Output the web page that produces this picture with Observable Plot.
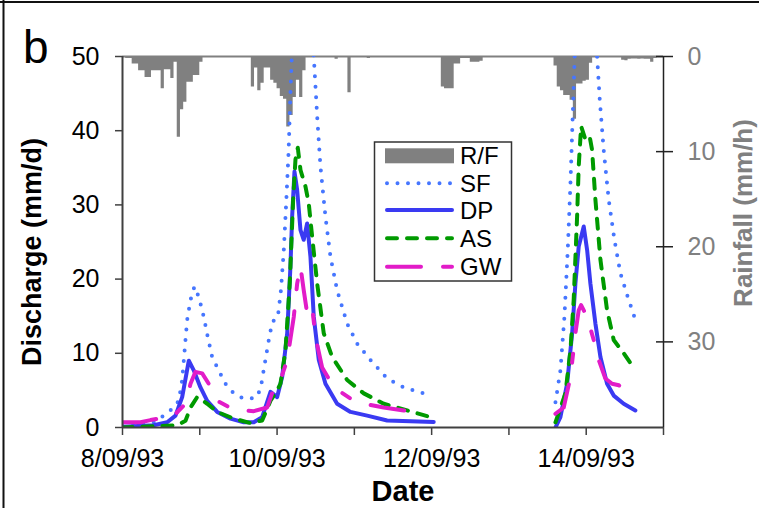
<!DOCTYPE html>
<html><head><meta charset="utf-8">
<script src="https://cdn.jsdelivr.net/npm/d3@7"></script>
<script src="https://cdn.jsdelivr.net/npm/@observablehq/plot@0.6"></script>
<style>
html,body{margin:0;padding:0;background:#fff;}
#chart{position:relative;width:759px;height:508px;overflow:hidden;font-family:"Liberation Sans",Arial,sans-serif;}
#chart svg{position:absolute;left:0;top:0;}
</style></head><body><div id="chart"></div>
<script>
// ---- data (day offsets from 8/09/93 00:00; null = gap in record) ----
const sfDay = [0,0.2,0.405,0.534,0.643,0.728,0.772,0.815,0.837,0.880,0.931,0.987,1.052,1.103,1.160,1.225,1.332,1.440,1.549,1.656,1.74,1.79,1.828,1.893,1.937,2.01,2.05,2.087,2.12,2.15,2.17,2.19,2.25,2.33,2.41,2.475,2.519,2.561,2.626,2.691,2.777,2.907,3.036,3.208,3.424,3.639,3.920,null,5.602,5.666,5.718,5.761,5.796,5.825,5.851,5.92,6.0,6.08,6.141,6.175,6.226,6.291,6.365,6.442,6.537,6.636];
const sfQ   = [0.2,0.3,0.7,1.6,2.5,3.6,6.4,11.8,14.5,17.2,19.0,17.6,14.9,12.2,9.5,8.1,5.9,4.6,4.0,3.9,4.1,5.4,7.8,11.8,14.2,14.9,18.5,23.9,30.7,37.4,44.2,50,58,61,57,50,41.9,35.2,28.4,23.0,18.5,14.0,11.3,9.1,6.6,5.4,4.55,null,3.4,7.7,14.9,23.9,32.9,41.9,50,57,59,56,50,44.2,37.4,30.7,25.3,20.8,17.6,14.5];

const dpDay = [0,0.405,0.578,0.686,0.772,0.828,0.858,0.922,1.009,1.096,1.225,1.397,1.569,1.699,1.807,1.915,2.001,2.066,2.131,2.173,2.195,2.225,2.26,2.303,2.345,2.389,2.432,2.475,2.540,2.626,2.777,2.950,3.166,3.424,3.726,4.027,null,5.602,5.666,5.753,5.818,5.860,5.903,5.968,6.012,6.054,6.119,6.184,6.270,6.356,6.485,6.636];
const dpQ   = [0.1,0.3,0.7,1.6,4.1,7.3,9.0,7.7,5.4,3.6,2.1,1.2,0.7,0.7,1.4,4.8,4.1,6.8,12.7,21.7,28.4,34.5,32.0,26.6,25.3,27.5,23.0,14.9,9.1,5.9,3.2,2.1,1.6,0.95,0.85,0.75,null,0,1.4,5.9,12.7,19.4,24.4,27.1,23.9,19.4,14.0,9.5,5.9,4.3,3.2,2.3];

const asDay = [0,0.708,0.815,0.880,0.966,1.096,1.225,1.440,1.656,1.807,1.915,2.001,2.044,2.109,2.164,2.208,2.238,2.268,2.303,2.367,2.410,2.454,2.519,2.604,2.713,2.907,3.122,3.380,3.683,3.984,null,5.602,5.731,5.796,5.838,5.882,5.903,5.934,5.990,6.045,6.076,6.119,6.184,6.270,6.356,6.485,6.636];
const asQ   = [0,0.3,0.9,2.7,4.1,3.2,2.1,1.2,0.6,0.95,3.6,5.0,5.9,10.4,19.4,30.7,36.1,37.7,34.7,32.5,30.2,25.7,19.4,12.7,9.5,6.4,4.6,3.2,2.3,1.4,null,0.7,4.6,10.4,17.2,28.4,35.2,40.6,38.8,39.2,37.4,30.7,22.6,15.8,11.8,10.0,7.7];

const gwDay = [0,0.233,0.362,0.470,0.664,0.815,0.880,0.944,1.031,1.116,1.225,1.440,1.699,1.872,1.979,2.044,2.131,2.216,2.260,2.303,2.345,2.389,2.454,2.497,2.583,2.733,2.950,3.122,3.380,3.639,3.833,null,5.602,5.709,5.796,5.860,5.903,5.934,6.012,6.097,6.162,6.248,6.335,6.421,6.636];
const gwQ   = [0.7,0.7,1.0,1.2,1.6,3.2,5.9,7.5,7.3,5.9,3.6,2.4,2.2,2.7,5.9,6.4,9.1,14.9,19.4,21.7,18.5,15.4,16.3,12.2,8.1,5.4,3.9,3.2,2.7,2.3,1.85,null,1.85,2.7,6.8,12.7,15.8,16.5,14.9,11.8,9.1,6.6,5.9,5.7,4.1];

// hourly rainfall (hour offsets from 8/09/93 00:00), mm/h
const rainHour = [1,2,3,4,5,6,7,8,9,10,11,12,13,14,15,16,17,18,19,20,21,22,23,24,
  40,41,42,43,44,45,46,47,48,49,50,51,52,53,54,55,56,66,70,76,
  99,100,101,102,103,104,105,106,107,108,109,110,111,
  134,135,136,137,138,139,140,141,142,143,144,145,
  155,156,157,158,159,160,161,162,163,164,165,166];
const rainMM = [0.2,0.2,0.8,0.8,1.5,1.5,2.2,2.2,1.5,1.5,1.5,3.4,1.4,1.4,2.3,0.6,8.5,5.6,4.8,2.7,2.7,2.0,2.0,0.6,
  3.2,1.2,3.6,2.8,1.2,1.2,2.5,2.8,3.4,4.2,4.5,7.4,6.2,4.3,2.5,4.3,1.5,0.3,3.8,0.2,
  3.2,3.4,3.4,3.4,0.8,0.8,0.2,0.2,0.2,0.6,0.6,0.6,0.5,
  1.0,3.2,3.6,4.1,4.1,4.6,6.6,2.9,2.9,2.6,2.5,0.7,
  0.4,0.45,0.3,0.25,0.25,0.3,0.25,0.3,0.3,0.6,0.2,0.1];

const qTicks = [0,10,20,30,40,50];
const rainTicks = [0,10,20,30];
const xTickDays = [0,1,2,3,4,5,6,7];
const xTickLabels = ["8/09/93","","10/09/93","","12/09/93","","14/09/93",""];
const seriesNames = ["SF","DP","AS","GW"];

// ---- build ----
const W = 759, H = 508;
const M = {marginTop:56, marginRight:96, marginBottom:81, marginLeft:122};
const FONT = '"Liberation Sans", Arial, sans-serif';
const t0 = Date.UTC(1993, 8, 8);
const toDate = d => d == null ? null : new Date(t0 + d * 864e5);
const hourDate = h => new Date(t0 + h * 36e5);
const xDomain = [toDate(0), toDate(7)];
const rows = (days, qs) => days.map((d, i) => ({date: toDate(d), q: qs[i]}));
const sf = rows(sfDay, sfQ), dp = rows(dpDay, dpQ), as = rows(asDay, asQ), gw = rows(gwDay, gwQ);
// hourly totals as a stepped hyetograph: one contiguous block per run of consecutive hours
const rainSteps = [];
rainHour.forEach((h, i) => {
  rainSteps.push({t: hourDate(h), mm: rainMM[i]});
  if (rainHour[i + 1] !== h + 1) {
    rainSteps.push({t: hourDate(h + 1), mm: rainMM[i]});
    rainSteps.push({t: hourDate(h + 1), mm: null});
  }
});
const tickDates = xTickDays.map(toDate);
const labelByTime = new Map(tickDates.map((d, i) => [+d, xTickLabels[i]]));

const C = {SF:"#4676ff", DP:"#3a3af2", AS:"#009a00", GW:"#e21cc8", RF:"#808080"};
const DASH = {SF:"0 10.5", DP:null, AS:"10 10", GW:"34 22 9 22"};

const rainPlot = Plot.plot({
  width: W, height: H, ...M,
  x: {type: "utc", domain: xDomain, axis: null},
  y: {domain: [0, 39], reverse: true, label: null},
  style: {background: "white", fontFamily: FONT, overflow: "visible"},
  marks: [
    Plot.areaY(rainSteps, {x: "t", y: "mm", curve: "step-after", fill: C.RF}),
    Plot.ruleY([0], {stroke: C.RF, strokeWidth: 2}),
    Plot.ruleX([xDomain[1]], {stroke: "#222", strokeWidth: 1.5}),
    Plot.axisY({anchor: "right", ticks: rainTicks, tickSize: 17, dx: -8, tickPadding: 15,
      fontSize: 25, fill: "#808080", stroke: "#222", strokeWidth: 1.5, label: null, tickFormat: d => String(d)})
  ]
});

const lineOpts = k => ({x: "date", y: "q", stroke: C[k], strokeWidth: 4,
  strokeDasharray: DASH[k], strokeLinecap: "round", strokeLinejoin: "round", clip: true});

const qPlot = Plot.plot({
  width: W, height: H, ...M,
  x: {type: "utc", domain: xDomain, label: null},
  y: {domain: [0, 50], label: null},
  style: {background: "transparent", fontFamily: FONT, overflow: "visible"},
  marks: [
    Plot.line(sf, lineOpts("SF")),
    Plot.line(dp, lineOpts("DP")),
    Plot.line(as, lineOpts("AS")),
    Plot.line(gw, lineOpts("GW")),
    Plot.ruleX([xDomain[0]], {stroke: "#404040", strokeWidth: 2}),
    Plot.ruleY([0], {stroke: "#404040", strokeWidth: 2}),
    Plot.axisY({ticks: qTicks, tickSize: 7, tickPadding: 16, fontSize: 25, fill: "#000",
      stroke: "#404040", strokeWidth: 1.5, label: null, tickFormat: d => String(d)}),
    Plot.axisX({ticks: tickDates, tickSize: 8, tickPadding: 14, fontSize: 25, fill: "#000",
      stroke: "#404040", strokeWidth: 1.5, label: null, tickFormat: d => labelByTime.get(+d) ?? ""})
  ]
});

const host = document.getElementById("chart");
host.appendChild(rainPlot);
host.appendChild(qPlot);

// ---- annotations: titles, panel letter, legend, panel border ----
const svg = d3.select(qPlot);
const g = svg.append("g").attr("font-family", FONT).attr("text-anchor", "start");
const txt = (sel, size, weight, fill) => sel.style("font-size", size + "px").style("font-weight", weight).attr("fill", fill);
g.append("line").attr("x1", 0).attr("x2", W).attr("y1", 2).attr("y2", 2).attr("stroke", "#111").attr("stroke-width", 2);
g.append("line").attr("x1", 3.5).attr("x2", 3.5).attr("y1", 0).attr("y2", H).attr("stroke", "#111").attr("stroke-width", 2);
txt(g.append("text").attr("x", 23).attr("y", 63).attr("text-anchor", "start").text("b"), 46, "normal", "#000");
txt(g.append("text").attr("transform", "translate(41,252) rotate(-90)").attr("text-anchor", "middle").text("Discharge (mm/d)"), 27, "bold", "#000");
txt(g.append("text").attr("transform", "translate(752,213) rotate(-90)").attr("text-anchor", "middle").text("Rainfall (mm/h)"), 26, "bold", "#808080");
txt(g.append("text").attr("x", 403).attr("y", 501).attr("text-anchor", "middle").text("Date"), 29, "bold", "#000");

const lg = g.append("g");
lg.append("rect").attr("x", 374.5).attr("y", 142).attr("width", 137).attr("height", 139)
  .attr("fill", "white").attr("stroke", "#333").attr("stroke-width", 1.5);
const rowY = [155.8, 183.3, 210, 238.3, 266.7];
lg.append("rect").attr("x", 385).attr("y", rowY[0] - 7.5).attr("width", 69).attr("height", 15).attr("fill", C.RF);
txt(lg.append("text").attr("x", 460).attr("y", rowY[0] + 8.5).attr("text-anchor", "start").text("R/F"), 24, "normal", "#000");
seriesNames.forEach((k, i) => {
  const y = rowY[i + 1];
  lg.append("path").attr("d", `M387,${y}H452`).attr("stroke", C[k]).attr("stroke-width", 4)
    .attr("stroke-linecap", "round").attr("stroke-dasharray", DASH[k]).attr("fill", "none");
  txt(lg.append("text").attr("x", 460).attr("y", y + 8.5).attr("text-anchor", "start").text(k), 24, "normal", "#000");
});
</script></body></html>
